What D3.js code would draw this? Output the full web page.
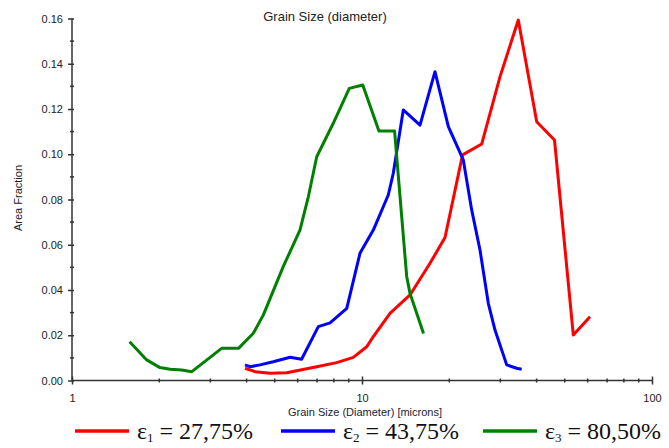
<!DOCTYPE html>
<html>
<head>
<meta charset="utf-8">
<script src="https://cdn.jsdelivr.net/npm/d3@7"></script>
<style>
  html, body { margin: 0; padding: 0; background: #fff; }
  svg { display: block; }
</style>
</head>
<body>
<script>
// ---- data ----
const redX   = [3.95, 4.28, 4.82, 5.50, 6.98, 8.18, 9.33, 10.38, 10.94, 12.49, 14.64, 17.16, 19.33, 22.22, 25.87, 29.92, 34.59, 40.04, 46.11, 53.54, 61.12];
const redY   = [0.0054, 0.0039, 0.0032, 0.0034, 0.0061, 0.0079, 0.0102, 0.0149, 0.0194, 0.0297, 0.0378, 0.0518, 0.0632, 0.0997, 0.1045, 0.1343, 0.1593, 0.1144, 0.1063, 0.0201, 0.0282];
const blueX  = [3.95, 4.11, 4.45, 4.94, 5.65, 6.19, 7.07, 7.76, 8.86, 9.84, 10.94, 12.32, 12.82, 13.88, 15.85, 17.85, 19.85, 22.35, 23.89, 25.52, 27.26, 28.75, 31.55, 34.15, 35.54];
const blueY  = [0.0069, 0.0061, 0.0069, 0.0083, 0.0103, 0.0094, 0.0238, 0.0255, 0.0319, 0.0562, 0.0665, 0.0820, 0.0916, 0.1196, 0.1129, 0.1365, 0.1122, 0.0975, 0.0754, 0.0577, 0.0341, 0.0223, 0.0069, 0.0054, 0.0050];
const greenX = [1.58, 1.81, 2.01, 2.18, 2.39, 2.59, 3.28, 3.75, 4.22, 4.57, 5.35, 6.11, 6.53, 6.98, 7.96, 9.04, 10.06, 11.44, 12.95, 14.26, 14.64, 16.30];
const greenY = [0.0171, 0.0091, 0.0057, 0.0050, 0.0046, 0.0039, 0.0142, 0.0142, 0.0209, 0.0290, 0.0503, 0.0665, 0.0812, 0.0989, 0.1137, 0.1291, 0.1306, 0.1103, 0.1103, 0.0460, 0.0385, 0.0208];

const yTicks = [0, 0.02, 0.04, 0.06, 0.08, 0.10, 0.12, 0.14, 0.16];
const yMinor = [0.01, 0.03, 0.05, 0.07, 0.09, 0.11, 0.13, 0.15];
const xMajor = [1, 10, 100];
const xMinor = [2, 3, 4, 5, 6, 7, 8, 9, 20, 30, 40, 50, 60, 70, 80, 90];

const seriesNames  = ["1", "2", "3"];
const seriesLabels = ["= 27,75%", "= 43,75%", "= 80,50%"];
const seriesColors = ["#ff0000", "#0000ff", "#008000"];

const title  = "Grain Size (diameter)";
const xTitle = "Grain Size (Diameter) [microns]";
const yTitle = "Area Fraction";

// ---- chart ----
const W = 669, H = 448;
const svg = d3.select("body").append("svg").attr("width", W).attr("height", H);

const x = d3.scaleLog().domain([1, 100]).range([72, 652]);
const y = d3.scaleLinear().domain([0, 0.16]).range([380.5, 18.5]);

const axisColor = "#333";
const labelFont = "Liberation Sans, Arial, sans-serif";

// y axis
const gy = svg.append("g").attr("transform", `translate(${x(1)},0)`)
  .call(d3.axisLeft(y).tickValues(yTicks).tickFormat(d3.format(".2f")).tickSize(4).tickPadding(5));
gy.select(".domain").attr("stroke", axisColor).attr("stroke-width", 1.5).attr("d", `M0,${y(0)}V${y(0.16)}`);
gy.selectAll(".tick line").attr("stroke", axisColor).attr("stroke-width", 1.5).attr("x1", 2).attr("x2", -4);
gy.selectAll(".tick text").attr("fill", "#222").attr("font-family", labelFont).attr("font-size", 11);
gy.selectAll(".minor").data(yMinor).enter().append("line")
  .attr("x1", -2).attr("x2", 2).attr("y1", d => y(d)).attr("y2", d => y(d))
  .attr("stroke", axisColor).attr("stroke-width", 1.5);

// x axis
const gx = svg.append("g").attr("transform", `translate(0,${y(0)})`)
  .call(d3.axisBottom(x).tickValues(xMajor).tickFormat(d3.format("d")).tickSize(4).tickPadding(10));
gx.select(".domain").attr("stroke", axisColor).attr("stroke-width", 1.5).attr("d", `M${x(1)},0H${x(100)}`);
gx.selectAll(".tick line").attr("stroke", axisColor).attr("stroke-width", 1.5).attr("y1", -4).attr("y2", 4);
gx.selectAll(".tick text").attr("fill", "#222").attr("font-family", labelFont).attr("font-size", 11);
gx.selectAll(".minor").data(xMinor).enter().append("line")
  .attr("x1", d => x(d)).attr("x2", d => x(d)).attr("y1", -2).attr("y2", 2)
  .attr("stroke", axisColor).attr("stroke-width", 1.5);

// titles
svg.append("text").attr("x", 325).attr("y", 21).attr("text-anchor", "middle")
  .attr("font-family", labelFont).attr("font-size", 13).attr("fill", "#222").text(title);
svg.append("text").attr("x", 365).attr("y", 416).attr("text-anchor", "middle")
  .attr("font-family", labelFont).attr("font-size", 11).attr("fill", "#223").text(xTitle);
svg.append("text").attr("transform", "translate(22,198) rotate(-90)").attr("text-anchor", "middle")
  .attr("font-family", labelFont).attr("font-size", 11).attr("fill", "#222").text(yTitle);

// lines
const line = d3.line().x(d => x(d[0])).y(d => y(d[1]));
const series = [
  d3.zip(redX, redY),
  d3.zip(blueX, blueY),
  d3.zip(greenX, greenY)
];
svg.append("g").selectAll("path").data(series).enter().append("path")
  .attr("d", line)
  .attr("fill", "none")
  .attr("stroke", (d, i) => seriesColors[i])
  .attr("stroke-width", 3)
  .attr("stroke-linejoin", "round");

// legend
const legX = [75, 281, 483];
const legY = 431;
const lg = svg.append("g").selectAll("g").data(seriesNames).enter().append("g")
  .attr("transform", (d, i) => `translate(${legX[i]},${legY})`);
lg.append("line").attr("x1", 0).attr("x2", 54).attr("y1", 0).attr("y2", 0)
  .attr("stroke", (d, i) => seriesColors[i]).attr("stroke-width", 3.5);
const lt = lg.append("text").attr("x", 62).attr("y", 8)
  .attr("font-family", "Liberation Serif, Times New Roman, serif").attr("font-size", 24).attr("fill", "#111");
lt.append("tspan").text("ε");
lt.append("tspan").attr("font-size", 13).attr("dy", 3).text(d => d);
lt.append("tspan").attr("dy", -3).attr("dx", 6).text((d, i) => seriesLabels[i]);
</script>
</body>
</html>
